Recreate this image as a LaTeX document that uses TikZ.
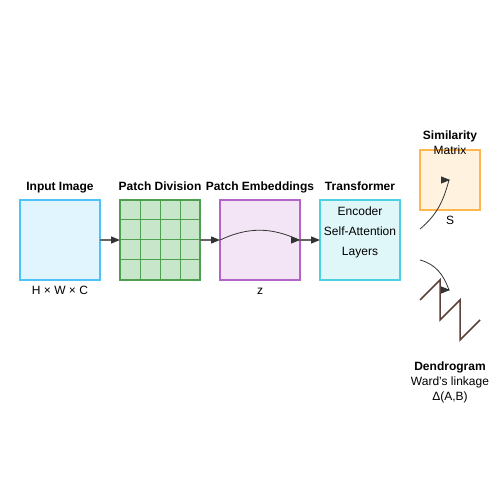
\documentclass[tikz,border=0pt]{standalone}
\usepackage{fontspec}
\setmainfont{Liberation Sans}
\usetikzlibrary{positioning,arrows.meta}
\definecolor{imgfill}{HTML}{E1F5FE}
\definecolor{imgline}{HTML}{4FC3F7}
\definecolor{patchfill}{HTML}{C8E6C9}
\definecolor{patchline}{HTML}{4CA050}
\definecolor{embfill}{HTML}{F3E5F5}
\definecolor{embline}{HTML}{B466C8}
\definecolor{transfill}{HTML}{E0F7FA}
\definecolor{transline}{HTML}{4DD0E1}
\definecolor{simfill}{HTML}{FFF3E0}
\definecolor{simline}{HTML}{FFB74D}
\definecolor{dendro}{HTML}{5D4037}

\begin{document}
\begin{tikzpicture}[x=1pt,y=1pt,node distance=20pt,
    >={Triangle[length=9pt,width=7pt,color=black!80]},
    box/.style={rectangle,draw,line width=1.5pt,minimum width=80pt,minimum height=80pt,inner sep=0pt,outer sep=0pt},
    title/.style={font=\fontsize{12}{15}\selectfont\bfseries,inner sep=0pt,text height=9pt,text depth=2.5pt},
    note/.style={font=\fontsize{12}{15}\selectfont,inner sep=0pt,text height=9pt,text depth=2.5pt},
    flow/.style={->,draw=black!60,line width=1.3pt},
    bent/.style={->,draw=black!80,line width=0.8pt}]
            \useasboundingbox (0,0) rectangle (500,500);

            \node [box, fill=imgfill, draw=imgline](img) at (60,260) {};
            \node [box, fill=patchfill, draw=patchline](patch) [right=of img] {};
            \node [box, fill=embfill, draw=embline](emb) [right=of patch] {};
            \node [box, fill=transfill, draw=transline](trans) [right=of emb] {};
            \node [box, fill=simfill, draw=simline, minimum width=60pt, minimum height=60pt](sim) at (450,320) {};

            \draw [patchline, line width=1pt] (patch.south west) grid[step=20pt] (patch.north east);

            \node [title](imgT) [above=7pt of img]{Input Image};
            \node [title](patchT) [above=7pt of patch]{Patch Division};
            \node [title](embT) [above=7pt of emb]{Patch Embeddings};
            \node [title](transT) [above=7pt of trans]{Transformer};

            \node [note](imgN) [below=5pt of img]{H × W × C};
            \node [note](embN) [below=5pt of emb]{z};
            \node [note](simN) [below=5pt of sim]{S};

            \node [font=\fontsize{12}{20}\selectfont, align=center, inner sep=0pt, anchor=north](transN) at ([yshift=-6.4pt]trans.north)
                {Encoder\\Self-Attention\\Layers};
            \node [font=\fontsize{12}{15}\selectfont, align=center, inner sep=0pt, anchor=south](simT) at ([yshift=-5.3pt]sim.north)
                {\textbf{Similarity}\\Matrix};

            % dendrogram
            \draw [dendro, line width=1.5pt] (420,200) -- (440,220) -- (440,180) -- (460,200) -- (460,160) -- (480,180);
            \node [font=\fontsize{12}{15}\selectfont, align=center, inner sep=0pt](dendT) at (450,118)
                {\textbf{Dendrogram}\\Ward's linkage\\Δ(A,B)};

            \coordinate (toSim) at ([xshift=20pt, yshift=11pt]trans.east);
            \coordinate (toDend) at ([xshift=20pt, yshift=-20pt]trans.east);
            \coordinate (dendIn) at (450,210);

            \draw [flow] (img) -- (patch);
            \draw [flow] (patch) -- (emb);
            \draw [flow] (emb) -- (trans);
            \draw [bent] (emb.west) to[bend left=25] ([xshift=-1pt]emb.east) -- (emb.east);
            \draw [bent] (toSim) to[out=40, in=-105] ([xshift=-1pt]sim.center) -- (sim.center);
            \draw [bent] (toDend) to[out=-15, in=110] ([xshift=-1pt]dendIn) -- (dendIn);
        \end{tikzpicture}
\end{document}
